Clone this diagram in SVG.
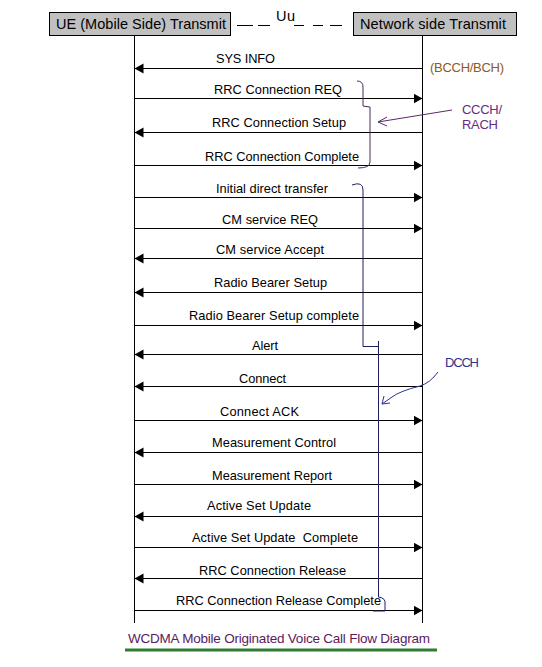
<svg xmlns="http://www.w3.org/2000/svg" width="542" height="667" viewBox="0 0 542 667">
<style>
text{font-family:"Liberation Sans",Arial,sans-serif;}
.hdr{font-size:14.5px;fill:#000;}
.lbl{font-size:12.8px;fill:#000;white-space:pre;}
.box{fill:#c0c0c0;stroke:#000;stroke-width:1;}
.life{stroke:#000;stroke-width:1;fill:none;}
.msg{stroke:#000;stroke-width:1;fill:none;marker-end:url(#ah);}
.ann{font-size:13px;}
</style>
<defs>
<marker id="ah" markerUnits="userSpaceOnUse" markerWidth="10" markerHeight="11" refX="9" refY="5" orient="auto">
<path d="M0,0 L9,5 L0,10 z" fill="#000"/>
</marker>
</defs>
<rect width="542" height="667" fill="#fff"/>

<g id="ue">
<rect class="box" x="49.5" y="12.5" width="181" height="23"/>
<text class="hdr" x="56" y="29" textLength="170">UE (Mobile Side) Transmit</text>
<line class="life" x1="134.5" y1="36" x2="134.5" y2="623"/>
</g>
<g id="network">
<rect class="box" x="353.5" y="12.5" width="163" height="23"/>
<text class="hdr" x="360" y="29" textLength="146">Network side Transmit</text>
<line class="life" x1="422.5" y1="36" x2="422.5" y2="623"/>
</g>
<g id="uu">
<path d="M237,25.5 H253 M258,25.5 H270 M294,25.5 H304 M313,25.5 H323 M330,25.5 H342" stroke="#000" stroke-width="1"/>
<text class="hdr" x="276" y="21" textLength="19">Uu</text>
</g>

<g id="connectors">
<line class="msg" x1="422.5" y1="68.5" x2="134.5" y2="68.5"/>
<line class="msg" x1="134.5" y1="98.5" x2="422.5" y2="98.5"/>
<line class="msg" x1="422.5" y1="132.5" x2="134.5" y2="132.5"/>
<line class="msg" x1="134.5" y1="165.5" x2="422.5" y2="165.5"/>
<line class="msg" x1="134.5" y1="197.5" x2="422.5" y2="197.5"/>
<line class="msg" x1="134.5" y1="228.5" x2="422.5" y2="228.5"/>
<line class="msg" x1="422.5" y1="258.5" x2="134.5" y2="258.5"/>
<line class="msg" x1="422.5" y1="292.5" x2="134.5" y2="292.5"/>
<line class="msg" x1="134.5" y1="325.5" x2="422.5" y2="325.5"/>
<line class="msg" x1="422.5" y1="354.5" x2="134.5" y2="354.5"/>
<line class="msg" x1="422.5" y1="386.5" x2="134.5" y2="386.5"/>
<line class="msg" x1="134.5" y1="420.5" x2="422.5" y2="420.5"/>
<line class="msg" x1="422.5" y1="452.5" x2="134.5" y2="452.5"/>
<line class="msg" x1="134.5" y1="484.5" x2="422.5" y2="484.5"/>
<line class="msg" x1="422.5" y1="516.5" x2="134.5" y2="516.5"/>
<line class="msg" x1="134.5" y1="547.5" x2="422.5" y2="547.5"/>
<line class="msg" x1="422.5" y1="578.5" x2="134.5" y2="578.5"/>
<line class="msg" x1="134.5" y1="610.5" x2="422.5" y2="610.5"/>
</g>

<g id="labels">
<text class="lbl" x="216" y="63" textLength="59">SYS INFO</text>
<text class="lbl" x="214" y="94" textLength="128">RRC Connection REQ</text>
<text class="lbl" x="212" y="127" textLength="134">RRC Connection Setup</text>
<text class="lbl" x="205" y="161" textLength="154">RRC Connection Complete</text>
<text class="lbl" x="216" y="193" textLength="112">Initial direct transfer</text>
<text class="lbl" x="222" y="224" textLength="96">CM service REQ</text>
<text class="lbl" x="216" y="254" textLength="108">CM service Accept</text>
<text class="lbl" x="214" y="287" textLength="113">Radio Bearer Setup</text>
<text class="lbl" x="189" y="320" textLength="170">Radio Bearer Setup complete</text>
<text class="lbl" x="252" y="350" textLength="26">Alert</text>
<text class="lbl" x="239" y="383" textLength="47">Connect</text>
<text class="lbl" x="220" y="416" textLength="79">Connect ACK</text>
<text class="lbl" x="212" y="447" textLength="124">Measurement Control</text>
<text class="lbl" x="212" y="480" textLength="120">Measurement Report</text>
<text class="lbl" x="207" y="510" textLength="104">Active Set Update</text>
<text class="lbl" x="192" y="542" textLength="166">Active Set Update  Complete</text>
<text class="lbl" x="199" y="575" textLength="147">RRC Connection Release</text>
<text class="lbl" x="176" y="605" textLength="205">RRC Connection Release Complete</text>
</g>

<g id="bcch">
<text class="ann" x="430" y="72" textLength="74" fill="#8c5a24">(BCCH/BCH)</text>
</g>
<g id="ccch">
<path d="M357,81 Q363,81 363,87 L363,106 L370,107 L370,162 Q370,168 358,168" fill="none" stroke="#4a2a5c" stroke-width="1"/>
<path d="M452,110 L378,122 M387,117 L378,122 L387,126" fill="none" stroke="#5a2a6a" stroke-width="1"/>
<text class="ann" x="462" y="114" textLength="40" fill="#6a2a80">CCCH/</text>
<text class="ann" x="462" y="129" textLength="36" fill="#6a2a80">RACH</text>
</g>
<g id="dcch">
<path d="M352,185 Q363,181 363,190 L363,346.5 L378,346.5 M378.5,341 L378.5,597 Q386,598 385,604 L385,611 L373,611" fill="none" stroke="#1e1e5e" stroke-width="1"/>
<path d="M438,372 Q430,383 420,386 Q400,391 392,397 L382,404 M384,396 L382,404 L390,403" fill="none" stroke="#2a3590" stroke-width="1"/>
<text class="ann" x="445" y="367" textLength="34" fill="#2a3590">DCCH</text>
</g>

<g id="title">
<text x="128" y="643" font-size="13.5" textLength="302" fill="#5b1a5e">WCDMA Mobile Originated Voice Call Flow Diagram</text>
<line x1="125" y1="650" x2="437" y2="650" stroke="#2e7d32" stroke-width="3"/>
</g>
</svg>
